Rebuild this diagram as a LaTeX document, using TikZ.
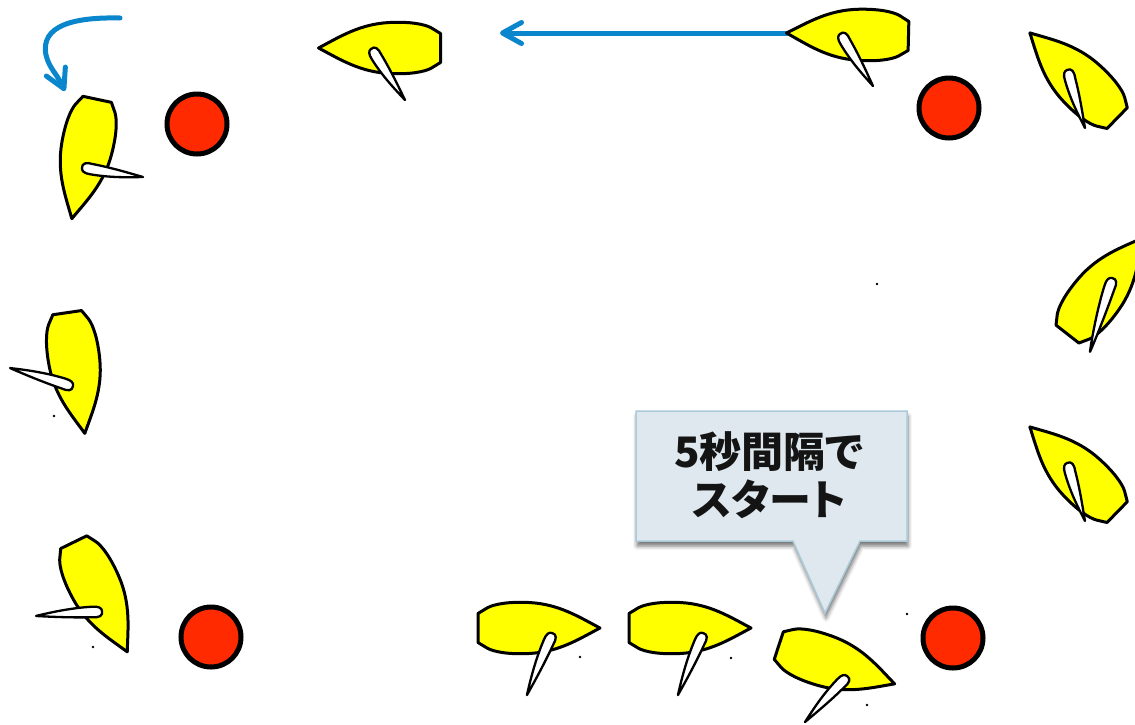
\documentclass[tikz,border=0pt]{standalone}
\usepackage{fontspec}
\newfontfamily\cjkfont{Noto Sans CJK JP}[RawFeature=+palt]
\usetikzlibrary{arrows.meta,shadows.blur}
\definecolor{hullyellow}{RGB}{255,255,0}
\definecolor{buoyred}{RGB}{255,42,0}
\definecolor{arrowblue}{RGB}{10,135,204}
\definecolor{calloutfill}{RGB}{222,232,238}
\definecolor{calloutedge}{RGB}{170,202,216}

\tikzset{
  hullline/.style={draw=black, line width=3pt, fill=hullyellow, line join=round},
  sailline/.style={draw=black, line width=2.3pt, fill=white, line join=round},
  buoy/.style={draw=black, line width=5pt, fill=buoyred},
  course/.style={draw=arrowblue, line width=5pt, line cap=round,
    -{Straight Barb[length=19pt,width=21pt,line cap=round,line join=round]}},
  speech/.style={fill=calloutfill, draw=calloutedge, line width=1.5pt,
    blur shadow={shadow xshift=1pt, shadow yshift=-5pt, shadow blur radius=4pt, shadow opacity=55}},
  speechtext/.style={font=\cjkfont\bfseries\fontsize{42}{48}\selectfont, text=black!92, align=center},
  pics/hull/.style={code={
    \path[hullline] (61,0) .. controls (40,-11) and (20,-24) .. (-10,-25.5)
      .. controls (-30,-26.5) and (-45,-24) .. (-52,-20) -- (-61,-14.5) -- (-61,14.5) -- (-52,20)
      .. controls (-45,24) and (-30,26.5) .. (-10,25.5)
      .. controls (20,24) and (40,11) .. (61,0) -- cycle;}},
  pics/sail/.style={code={
    \path[sailline] (0,0) .. controls (-1,-5) and (4,-6.5) .. (10,-5.5)
      .. controls (30,-4.5) and (#1-15,-2) .. (#1,0)
      .. controls (#1-15,2.5) and (30,5.5) .. (9,5)
      .. controls (3,5) and (0,3) .. (0,0) -- cycle;}},
}

\begin{document}
\begin{tikzpicture}[x=1pt,y=-1pt]
\useasboundingbox (0,0) rectangle (1135,724);
\clip (0,0) rectangle (1135,724);

% turning marks
\path[buoy] (197,124) circle (30);
\path[buoy] (949,108) circle (30);
\path[buoy] (211,637) circle (30);
\path[buoy] (953,638) circle (30);

% course arrows
\coordinate (leadbow) at (787,33);
\coordinate (runend) at (500,33);
\coordinate (turnstart) at (120,18);
\coordinate (turnend) at (65,91);
\draw[course] (leadbow) -- (runend);
\draw[course] (turnstart) .. controls (75,17) and (40,25) .. (46,55)
  .. controls (49,68) and (57,74) .. (turnend);

% boats: hull, then sail
\pic[rotate=-102] (b1) at (84.5,159) {hull};
\pic[rotate=-8.4] (s1) at (82,168) {sail=61.7};

\pic[rotate=180] (b2) at (379.5,48) {hull};
\pic[rotate=-56.3] (s2) at (371,49) {sail=61.3};

\pic[rotate=178.6] (b3) at (847.5,34.5) {hull};
\pic[rotate=-57.6] (s3) at (840,34) {sail=61.6};

\pic[rotate=135.7] (b4) at (1073.5,75.5) {hull};
\pic[rotate=-72.8] (s4) at (1067,70) {sail=60.7};

\pic[rotate=52] (b5) at (1105,286) {hull};
\pic[rotate=-106.6] (s5) at (1112,278) {sail=77};

\pic[rotate=135.7] (b6) at (1073.5,469.5) {hull};
\pic[rotate=-72.8] (s6) at (1067,463) {sail=60.7};

\pic[rotate=-81.7] (b7) at (76,373) {hull};
\pic[rotate=164.1] (s7) at (73,386) {sail=65.5};

\pic[rotate=-64] (b8) at (100.5,597) {hull};
\pic[rotate=184.3] (s8) at (102,611) {sail=66.2};

\pic (b9) at (539,628) {hull};
\pic[rotate=-112] (s9) at (552,633) {sail=66.9};

\pic (b10) at (690,628) {hull};
\pic[rotate=-112] (s10) at (703,633) {sail=66.9};

\pic[rotate=-18.3] (b11) at (836.7,664.7) {hull};
\pic[rotate=-132.4] (s11) at (847,676) {sail=62.3};

% stray marks
\foreach \px/\py in {877/284, 54/416, 93/647, 580/657, 731/658, 867/705, 907/614}
  \fill (\px,\py) circle (1.3);

% callout
\path[speech] (636,411) -- (907,411) -- (907,541) -- (860,541) -- (825,613)
  -- (793,541) -- (636,541) -- cycle;
\node[speechtext] (startnote) at (769,475) {5秒間隔で\\スタート};
\end{tikzpicture}
\end{document}
